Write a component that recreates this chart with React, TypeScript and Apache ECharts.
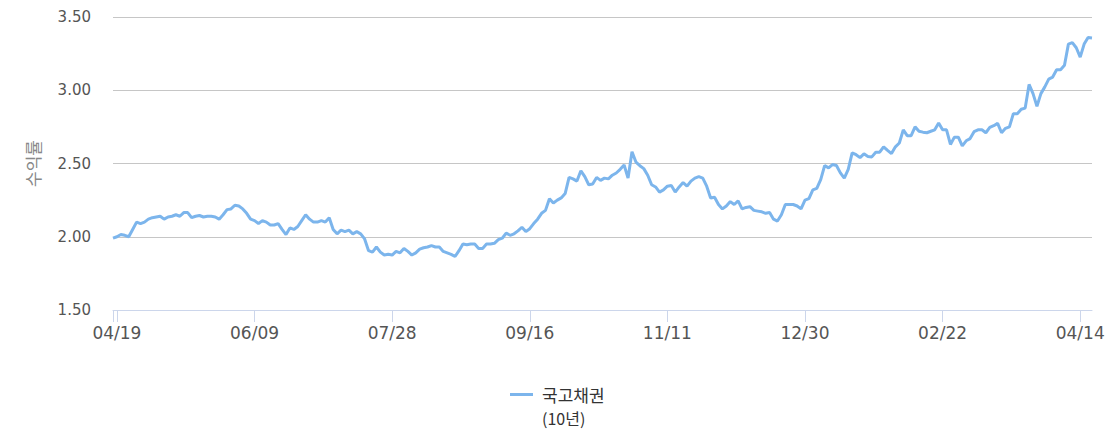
import React, { useEffect, useRef } from 'react';
import * as echarts from 'echarts';

// 국고채권(10년) 수익률, trading days from 2021-04-16
const startDate = '2021-04-16';
const closedDays = [
  '2021-05-05', '2021-05-19', '2021-08-16', '2021-09-20', '2021-09-21', '2021-09-22',
  '2021-10-04', '2021-10-11', '2022-01-31', '2022-02-01', '2022-02-02', '2022-03-01', '2022-03-09',
];

const yields = [
  1.99, 2.0, 2.015, 2.01, 2.0, 2.05, 2.1, 2.09, 2.1, 2.12,
  2.13, 2.135, 2.14, 2.12, 2.135, 2.14, 2.15, 2.14, 2.165, 2.165,
  2.13, 2.14, 2.145, 2.135, 2.14, 2.14, 2.135, 2.12, 2.15, 2.185,
  2.19, 2.215, 2.21, 2.19, 2.16,
  2.12, 2.11, 2.09, 2.11, 2.1, 2.08, 2.08, 2.09, 2.05, 2.015,
  2.06, 2.05, 2.07, 2.11, 2.15, 2.12, 2.1, 2.1, 2.11, 2.1,
  2.13, 2.05, 2.02, 2.045, 2.035, 2.045, 2.02, 2.035, 2.02, 1.985,
  1.905, 1.895, 1.93, 1.895, 1.875,
  1.88, 1.875, 1.9, 1.89, 1.92, 1.9, 1.875, 1.89, 1.915, 1.925,
  1.93, 1.94, 1.93, 1.93, 1.9, 1.89, 1.88, 1.865, 1.905, 1.95,
  1.945, 1.95, 1.95, 1.92, 1.92, 1.95, 1.95, 1.955, 1.98, 1.99,
  2.025, 2.01, 2.02, 2.04, 2.065,
  2.035, 2.055, 2.09, 2.12, 2.16, 2.18, 2.26, 2.23, 2.25, 2.265,
  2.295, 2.405, 2.395, 2.38, 2.45, 2.41, 2.355, 2.36, 2.405, 2.385,
  2.4, 2.395, 2.42, 2.435, 2.46, 2.49, 2.4, 2.58, 2.51, 2.485,
  2.465, 2.42, 2.355, 2.34, 2.305,
  2.32, 2.345, 2.35, 2.305, 2.34, 2.37, 2.345, 2.38, 2.4, 2.41,
  2.4, 2.345, 2.265, 2.27, 2.22, 2.19, 2.21, 2.24, 2.22, 2.245,
  2.19, 2.2, 2.205, 2.18, 2.175, 2.17, 2.16, 2.165, 2.12, 2.107,
  2.15, 2.22, 2.22, 2.22, 2.21,
  2.19, 2.25, 2.26, 2.32, 2.33, 2.39, 2.486, 2.47, 2.493, 2.486,
  2.436, 2.4, 2.46, 2.573, 2.56, 2.54, 2.566, 2.548, 2.545, 2.577,
  2.577, 2.614, 2.59, 2.568, 2.614, 2.64, 2.73, 2.69, 2.69, 2.75,
  2.72, 2.714, 2.71, 2.72, 2.73,
  2.776, 2.73, 2.73, 2.63, 2.68, 2.68, 2.62, 2.655, 2.67, 2.717,
  2.73, 2.73, 2.71, 2.746, 2.758, 2.774, 2.71, 2.74, 2.75, 2.84,
  2.84, 2.87, 2.878, 3.04, 2.977, 2.89, 2.977, 3.023, 3.076, 3.09,
  3.14, 3.14, 3.17, 3.315, 3.325, 3.29, 3.226, 3.315, 3.36, 3.357,
];

const seriesName = '국고채권';
const seriesNote = '(10년)';
const axisName = '수익률';
const labelStep = 35;

function tradingDays(from: string, count: number, closed: string[]): string[] {
  const out: string[] = [];
  const d = new Date(from + 'T00:00:00Z');
  while (out.length < count) {
    const iso = d.toISOString().slice(0, 10);
    const wd = d.getUTCDay();
    if (wd !== 0 && wd !== 6 && !closed.includes(iso)) {
      out.push(iso.slice(5).replace('-', '/'));
    }
    d.setUTCDate(d.getUTCDate() + 1);
  }
  return out;
}

const categories = tradingDays(startDate, yields.length, closedDays);

const NUM_FONT = "'DejaVu Sans', sans-serif";
const KR_FONT = "'Noto Sans CJK KR', 'Noto Sans', sans-serif";

export default function App() {
  const chartRef = useRef<HTMLDivElement>(null);

  useEffect(() => {
    if (!chartRef.current) return;
    const chart = echarts.init(chartRef.current, undefined, { renderer: 'svg' });
    chart.setOption({
      animation: false,
      grid: { left: 113, right: 26, top: 17, bottom: 136 },
      legend: {
        data: [seriesName],
        left: 510,
        top: 386,
        padding: 0,
        icon: 'rect',
        itemWidth: 23,
        itemHeight: 3,
        textStyle: { fontSize: 17, color: '#333', fontFamily: KR_FONT, padding: [0, 0, 0, 4] },
      },
      graphic: [
        {
          type: 'text',
          left: 542,
          top: 410,
          style: { text: seriesNote, fontSize: 16, fill: '#333', fontFamily: KR_FONT },
        },
      ],
      xAxis: {
        type: 'category',
        data: categories,
        boundaryGap: false,
        axisLine: { lineStyle: { color: '#ccd6eb' } },
        axisTick: {
          interval: (i: number) => i === 0 || (i - 1) % labelStep === 0,
          length: 12,
          lineStyle: { color: '#ccd6eb' },
        },
        axisLabel: {
          interval: (i: number) => (i - 1) % labelStep === 0,
          margin: 14,
          color: '#555',
          fontSize: 17,
          fontFamily: NUM_FONT,
        },
        splitLine: { show: false },
      },
      yAxis: {
        type: 'value',
        min: 1.5,
        max: 3.5,
        interval: 0.5,
        name: axisName,
        nameLocation: 'middle',
        nameRotate: 90,
        nameGap: 72,
        nameTextStyle: { fontSize: 17, color: '#888', fontFamily: KR_FONT },
        axisLine: { show: false },
        axisTick: { show: false },
        axisLabel: {
          formatter: (v: number) => v.toFixed(2),
          margin: 22,
          color: '#555',
          fontSize: 15,
          fontFamily: NUM_FONT,
        },
        splitLine: { lineStyle: { color: '#c6c6c6' } },
      },
      series: [
        {
          type: 'line',
          name: seriesName,
          data: yields,
          showSymbol: false,
          lineStyle: { width: 3, color: '#7cb5ec' },
          itemStyle: { color: '#7cb5ec' },
        },
      ],
    });
    return () => chart.dispose();
  }, []);

  return (
    <div
      ref={chartRef}
      style={{ position: 'absolute', left: 0, top: 0, width: 1118, height: 446 }}
    />
  );
}
